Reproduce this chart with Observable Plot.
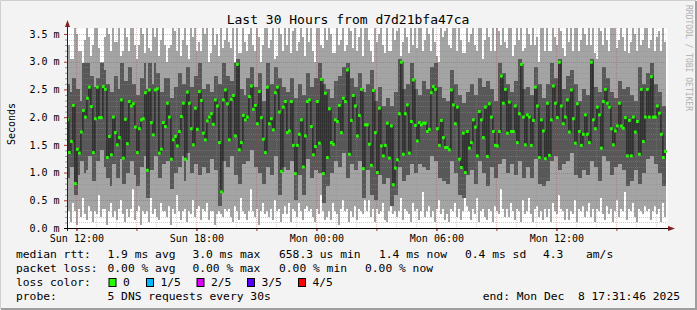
<!DOCTYPE html>
<html><head><meta charset="utf-8">
<script src="https://cdn.jsdelivr.net/npm/d3@7"></script>
<script src="https://cdn.jsdelivr.net/npm/@observablehq/plot@0.6"></script>
<style>
html,body{margin:0;padding:0;background:#f3f3f3;}
svg{display:block}
</style></head><body><div id="chart"></div>
<script>
// ---- data (ms), one entry per 6-minute column ----
const median = [
1.96,1.37,1.57,2.22,0.81,1.43,1.36,1.74,2.13,2.01,
2.35,2.55,2.20,1.37,1.98,2.55,2.00,2.00,2.56,2.51,
1.28,1.66,1.33,2.01,1.73,1.51,1.64,2.32,1.27,1.97,
1.53,2.29,2.21,2.25,1.83,1.37,1.80,1.96,1.98,2.45,
1.05,2.50,1.91,1.69,2.50,2.52,1.36,1.43,1.91,1.84,
2.26,2.01,1.25,1.60,1.66,1.49,1.75,2.02,2.26,1.25,
2.46,2.26,1.80,1.51,2.17,1.79,2.47,2.31,1.72,1.60,
1.94,2.01,2.07,1.88,2.32,2.21,1.55,0.66,2.32,2.50,
2.25,1.60,2.33,2.40,1.67,2.96,1.42,1.55,2.04,1.96,
2.01,2.38,2.57,2.15,2.22,1.89,2.47,2.00,1.61,1.37,
2.55,1.89,1.98,1.78,2.45,2.55,2.10,1.03,2.19,2.29,
1.73,1.76,2.29,1.50,0.99,1.50,1.70,1.96,1.11,1.67,
2.29,2.32,1.84,1.33,1.48,2.29,1.54,2.69,0.99,2.44,
1.28,2.16,1.55,1.52,1.96,1.93,2.22,1.73,2.35,2.29,
2.86,1.34,1.95,2.40,2.21,1.67,2.04,2.51,1.08,1.87,
1.87,1.52,1.14,2.49,1.73,1.01,2.17,1.49,1.31,1.50,
1.90,1.27,1.85,0.79,1.09,1.24,2.07,3.00,1.34,2.07,
2.23,1.36,1.93,2.68,1.86,1.58,1.91,1.87,1.90,1.90,
1.75,1.79,2.45,2.56,2.51,1.80,1.50,1.95,1.64,1.46,
1.46,1.42,2.50,2.23,1.89,2.19,1.25,1.10,1.72,1.01,
1.75,1.45,1.55,1.96,1.83,1.31,2.11,1.96,1.64,2.19,
1.30,2.25,2.01,1.75,1.50,1.49,1.75,2.75,2.26,2.51,
1.72,2.28,1.75,1.75,2.21,1.55,2.07,2.96,2.01,1.51,
2.05,2.01,1.50,1.95,2.55,2.21,1.28,1.96,1.76,1.26,
2.26,1.32,1.96,2.57,2.26,2.00,3.00,2.21,1.89,2.01,
2.32,1.74,2.50,1.98,1.54,2.25,1.75,1.50,1.70,2.05,
1.70,1.55,3.00,1.96,1.80,2.19,2.05,1.45,2.29,2.51,
2.26,2.19,1.80,1.51,1.76,1.85,2.26,1.85,1.81,2.00,
1.31,1.95,1.31,2.01,1.74,1.93,1.34,2.51,1.57,2.01,
2.51,2.01,2.74,2.01,2.01,2.21,2.08,1.70,1.28,1.39];

// outer smoke (light) bottom
const smokeOuterLow = [
0.25,0.3,0.1,0.45,0.3,0.05,0.35,0.2,0.55,0.25,
0.15,0.4,0.3,0.1,0.3,0.25,0.6,0.2,0.35,0.35,
0.05,0.3,0.45,0.2,0.3,0.15,0.35,0.5,0.25,0.1,
0.35,0.2,0.35,0.7,0.15,0.3,0.4,0.05,0.3,0.25,
0.3,0.1,0.55,0.25,0.35,0.2,0.15,0.45,0.3,0.3,
0.2,0.4,0.05,0.35,0.25,0.6,0.3,0.15,0.3,0.35,
0.1,0.3,0.25,0.5,0.2,0.35,0.4,0.15,0.35,0.3,
0.45,0.15,0.3,0.3,0.05,0.25,0.3,0.25,0.2,0.35,
0.3,0.35,0.2,0.1,0.4,0.3,0.15,0.55,0.3,0.25,
0.15,0.3,0.7,0.3,0.2,0.35,0.05,0.3,0.45,0.25,
0.3,0.2,0.35,0.15,0.5,0.3,0.35,0.1,0.25,0.4,
0.25,0.45,0.1,0.35,0.3,0.2,0.45,0.3,0.15,0.35,
0.4,0.3,0.35,0.2,0.1,0.35,0.25,0.6,0.3,0.15,
0.2,0.3,0.15,0.45,0.3,0.25,0.05,0.35,0.5,0.3,
0.35,0.1,0.3,0.2,0.4,0.15,0.35,0.3,0.25,0.5,
0.3,0.5,0.2,0.35,0.1,0.35,0.25,0.3,0.45,0.15,
0.1,0.3,0.4,0.25,0.3,0.2,0.3,0.55,0.15,0.35,
0.3,0.25,0.1,0.45,0.3,0.35,0.15,0.3,0.65,0.2,
0.3,0.4,0.2,0.3,0.1,0.35,0.5,0.25,0.35,0.15,
0.25,0.1,0.35,0.3,0.45,0.2,0.35,0.15,0.3,0.6,
0.4,0.3,0.15,0.35,0.25,0.55,0.1,0.3,0.35,0.2,
0.15,0.35,0.3,0.1,0.4,0.3,0.25,0.7,0.35,0.2,
0.35,0.2,0.45,0.3,0.15,0.35,0.3,0.1,0.5,0.25,
0.3,0.55,0.25,0.1,0.35,0.4,0.2,0.3,0.15,0.35,
0.2,0.35,0.1,0.45,0.3,0.25,0.6,0.35,0.3,0.15,
0.35,0.15,0.3,0.25,0.5,0.1,0.35,0.3,0.4,0.2,
0.3,0.45,0.2,0.35,0.1,0.35,0.3,0.55,0.25,0.15,
0.4,0.25,0.35,0.1,0.3,0.5,0.2,0.35,0.3,0.65,
0.15,0.35,0.3,0.45,0.2,0.1,0.35,0.3,0.25,0.4,
0.3,0.35,0.15,0.3,0.4,0.25,0.35,0.1,0.45,0.2];

// inner smoke (dark) bottom
const smokeInnerLow = [
0.9,0.9,1.1,1.1,0.6,0.6,0.95,1.2,1.2,1.0,
1.05,1.3,1.3,0.85,0.85,1.2,1.2,1.4,1.4,1.1,
0.9,0.9,0.75,1.15,1.15,0.9,0.9,1.25,0.8,0.8,
1.0,1.0,1.2,1.2,0.95,0.75,0.75,1.1,1.1,1.3,
0.55,0.55,1.05,1.05,1.3,1.3,0.9,0.9,1.15,1.15,
1.2,1.2,0.7,0.7,1.0,1.0,1.1,1.1,1.3,0.85,
1.35,1.35,1.0,1.0,1.15,1.15,0.95,0.95,1.1,1.1,
1.0,1.0,1.25,1.25,1.05,1.05,0.4,0.4,1.2,1.2,
1.1,1.1,1.3,1.3,0.95,0.95,0.8,0.8,1.15,1.15,
1.2,1.2,1.4,1.4,1.1,1.1,1.0,1.0,0.8,0.8,
1.1,1.1,0.95,0.95,1.3,1.3,0.6,0.6,1.1,1.1,
1.05,1.05,1.2,1.2,0.5,0.5,0.95,0.95,0.6,0.6,
1.25,1.25,0.9,0.9,1.05,1.05,1.0,1.0,0.45,0.45,
0.75,0.75,1.0,1.0,1.2,1.2,1.1,1.1,1.35,1.35,
0.9,0.9,1.15,1.15,1.05,1.05,1.2,1.2,0.55,0.55,
1.05,1.05,0.6,0.6,0.5,0.5,0.95,0.95,0.8,0.8,
0.9,0.9,0.4,0.4,0.6,0.6,1.1,1.1,0.85,0.85,
0.95,0.95,1.15,1.15,1.0,1.0,1.15,1.15,1.1,1.1,
1.05,1.05,1.3,1.3,1.2,1.2,0.9,0.9,0.85,0.85,
0.8,0.8,1.2,1.2,1.0,1.0,0.6,0.6,0.55,0.55,
0.95,0.95,1.05,1.05,0.8,0.8,1.2,1.2,1.0,1.0,
0.75,0.75,1.1,1.1,0.9,0.9,1.15,1.15,1.25,1.25,
1.0,1.0,1.15,1.15,0.95,0.95,1.2,1.2,0.9,0.9,
1.1,1.1,0.9,0.9,1.25,1.25,0.8,0.8,0.75,0.75,
0.85,0.85,1.2,1.2,1.3,1.3,1.05,1.05,1.15,1.15,
1.2,1.2,1.35,1.35,0.95,0.95,0.9,0.9,1.05,1.05,
0.95,0.95,1.2,1.2,1.1,1.1,0.85,0.85,1.3,1.3,
1.2,1.2,0.95,0.95,1.1,1.1,1.15,1.15,1.05,1.05,
0.75,0.75,0.85,0.85,1.05,1.05,0.8,0.8,1.0,1.0,
1.25,1.25,1.3,1.3,1.15,1.15,1.0,1.0,0.75,0.75];

// inner smoke (dark) top
const smokeInnerHigh = [
2.6,2.6,2.45,2.7,2.7,2.5,2.5,2.3,2.98,2.98,
2.98,2.98,2.75,2.75,2.55,2.7,2.7,2.98,2.98,2.85,
2.6,2.6,2.45,2.45,2.75,2.75,2.5,2.98,2.98,2.65,
2.65,2.9,2.9,2.6,2.6,2.4,2.4,2.7,2.7,2.98,
2.5,2.98,2.98,2.6,2.98,2.8,2.8,2.45,2.45,2.7,
2.7,2.7,2.35,2.35,2.55,2.55,2.8,2.8,2.6,2.6,
2.9,2.9,2.55,2.55,2.75,2.75,2.98,2.98,2.5,2.5,
2.6,2.6,2.45,2.45,2.75,2.75,2.6,2.6,2.98,2.98,
2.75,2.75,2.65,2.65,2.98,3.05,3.05,2.5,2.5,2.4,
2.7,2.7,2.9,2.9,2.55,2.55,2.8,2.8,2.3,2.3,
2.98,2.98,2.6,2.6,2.9,2.9,2.7,2.7,2.55,2.55,
2.45,2.45,2.7,2.7,2.35,2.35,2.6,2.6,2.4,2.4,
2.8,2.8,2.55,2.55,2.7,2.7,2.98,2.98,2.6,2.6,
2.5,2.5,2.35,2.35,2.65,2.65,2.75,2.75,2.9,2.9,
2.98,2.98,2.7,2.7,2.55,2.55,2.8,2.8,2.45,2.45,
2.6,2.6,2.85,2.85,2.3,2.3,2.55,2.55,2.2,2.2,
2.35,2.35,2.2,2.2,2.45,2.45,3.05,3.05,2.5,2.5,
2.6,2.6,2.98,2.98,2.5,2.5,2.4,2.4,2.65,2.65,
2.5,2.5,2.9,2.9,2.98,2.98,2.55,2.55,2.35,2.35,
2.3,2.3,2.85,2.85,2.6,2.6,2.4,2.4,2.25,2.25,
2.45,2.45,2.6,2.6,2.4,2.4,2.7,2.7,2.55,2.55,
2.65,2.65,2.5,2.5,2.3,2.3,2.98,2.98,2.8,2.8,
2.6,2.6,2.45,2.45,2.65,2.65,3.05,3.05,2.5,2.5,
2.55,2.55,2.4,2.4,2.9,2.9,2.6,2.6,2.35,2.35,
2.6,2.6,2.98,2.98,2.7,2.7,3.05,3.05,2.5,2.5,
2.75,2.75,2.85,2.85,2.6,2.6,2.3,2.3,2.5,2.5,
2.4,2.4,3.05,3.05,2.55,2.55,2.45,2.45,2.9,2.9,
2.7,2.7,2.45,2.45,2.35,2.35,2.65,2.65,2.5,2.5,
2.55,2.55,2.4,2.4,2.3,2.3,2.9,2.9,2.6,2.6,
2.8,2.8,2.98,2.98,2.6,2.6,2.45,2.45,2.2,2.2];

// outer smoke (light) top; values above the chart top are clipped
const smokeOuterHigh = [
3.7,3.3,3.05,3.05,3.7,3.5,3.2,3.2,2.95,3.4,
3.7,3.45,3.1,3.3,3.7,3.7,3.25,3.0,3.0,3.45,
3.7,3.5,3.2,3.7,3.35,3.35,3.7,3.1,3.2,3.7,
3.45,3.2,3.7,3.7,3.3,3.05,3.3,3.7,3.5,3.15,
3.7,3.25,3.2,3.7,3.45,3.7,3.1,3.4,3.7,3.3,
3.0,3.25,3.3,3.7,3.55,3.2,3.7,3.1,3.4,3.7,
3.3,3.05,3.7,3.45,3.7,3.2,3.35,3.2,3.7,3.5,
3.7,3.0,3.15,3.7,3.3,3.5,3.1,3.7,3.25,3.4,
3.7,3.35,3.25,3.7,3.0,3.7,3.15,3.15,3.7,3.35,
3.2,3.5,3.7,3.3,3.2,3.7,3.45,3.0,3.3,3.7,
3.7,3.25,3.4,3.7,3.05,3.1,3.7,3.5,3.2,3.7,
3.3,3.7,3.15,3.55,3.7,3.2,3.35,3.7,3.45,3.1,
3.7,3.35,3.7,3.2,3.0,3.7,3.6,3.3,3.25,3.7,
3.4,3.7,3.5,3.15,3.15,3.7,3.3,3.4,3.7,3.2,
3.3,3.7,3.55,3.25,3.7,3.2,3.45,3.7,3.1,3.7,
3.7,3.4,3.2,3.0,3.7,3.35,3.5,3.7,3.3,3.15,
3.7,3.2,3.2,3.7,3.4,3.55,3.7,3.1,3.35,3.7,
3.45,3.15,3.7,3.3,3.7,3.25,3.6,3.7,3.2,3.4,
3.7,3.5,3.2,3.7,3.35,3.1,3.0,3.7,3.45,3.55,
3.7,3.3,3.25,3.7,3.6,3.2,3.7,3.4,3.15,3.15,
3.7,3.35,3.5,3.7,3.3,3.2,3.7,3.6,3.05,3.4,
3.7,3.45,3.2,3.7,3.2,3.7,3.55,3.3,3.7,3.35,
3.25,3.7,3.6,3.1,3.3,3.7,3.4,3.7,3.2,3.25,
3.7,3.5,3.3,3.7,3.3,3.45,3.0,3.7,3.6,3.2,
3.7,3.2,3.2,3.7,3.45,3.3,3.7,3.55,3.25,3.1,
3.7,3.35,3.7,3.2,3.6,3.7,3.2,3.4,3.7,3.5,
3.3,3.7,3.3,3.7,3.15,3.05,3.7,3.55,3.3,3.7,
3.4,3.2,3.7,3.6,3.7,3.25,3.4,3.7,3.45,3.2,
3.7,3.15,3.35,3.7,3.5,3.2,3.7,3.3,3.4,3.6,
3.7,3.25,3.4,3.7,3.2,3.45,3.55,3.2,3.7,3.35];

const yTicks = [0, 0.5, 1, 1.5, 2, 2.5, 3, 3.5];
const xTickLabels = ["Sun 12:00", "Sun 18:00", "Mon 00:00", "Mon 06:00", "Mon 12:00"];
const titleText = "Last 30 Hours from d7d21bfa47ca";
const legendLines = [
  ["median rtt:", "1.9 ms avg", "3.0 ms max", "658.3 us min", "1.4 ms now", "0.4 ms sd", "4.3", "am/s"],
  ["packet loss:", "0.00 % avg", "0.00 % max", "0.00 % min", "0.00 % now"]
];
const lossLabels = ["0", "1/5", "2/5", "3/5", "4/5"];
const lossColors = ["#26ff00", "#00b8ff", "#dd00ff", "#5500ff", "#ff0000"];
const probeText = "5 DNS requests every 30s";
const endText = "end: Mon Dec  8 17:31:46 2025";

// ---- time frame ----
const STEP = 360 * 1000;
const firstColumn = Date.UTC(2025, 11, 7, 11, 30, 0);
const start = new Date(Date.UTC(2025, 11, 7, 11, 31, 46));
const end = new Date(Date.UTC(2025, 11, 8, 17, 31, 46));

const rows = median.map((m, i) => ({
  t0: new Date(firstColumn + i * STEP),
  t1: new Date(firstColumn + (i + 1) * STEP),
  med: m,
  lo1: smokeOuterLow[i], lo2: smokeInnerLow[i],
  hi2: smokeInnerHigh[i], hi1: smokeOuterHigh[i]
}));
const steps = rows.map(r => ({t: r.t0, med: r.med, lo1: r.lo1, lo2: r.lo2, hi2: r.hi2, hi1: r.hi1}));
const last = rows[rows.length - 1];
steps.push({t: last.t1, med: last.med, lo1: last.lo1, lo2: last.lo2, hi2: last.hi2, hi1: last.hi1});

const hours = d3.utcHour.range(start, end);
const hours3 = hours.filter(d => d.getUTCHours() % 3 === 0);
const hours6 = hours.filter(d => d.getUTCHours() % 6 === 0);
const hours1 = hours.filter(d => d.getUTCHours() % 3 !== 0);
const minorY = d3.range(1, 36).map(i => i / 10).filter(v => Math.abs(v * 2 - Math.round(v * 2)) > 1e-6);

const mono = "'DejaVu Sans Mono', monospace";

const plot = Plot.plot({
  width: 697, height: 310,
  marginLeft: 67, marginRight: 30, marginTop: 28, marginBottom: 82,
  style: {background: "transparent", fontFamily: mono, fontSize: "10px", color: "#000", overflow: "visible"},
  x: {type: "utc", domain: [start, end]},
  y: {domain: [0, 3.608]},
  marks: [
    Plot.frame({fill: "#ffffff", stroke: null}),
    Plot.areaY(steps, {x: "t", y1: "lo1", y2: "hi1", curve: "step-after", fill: "#a4a4a4", clip: true, shapeRendering: "crispEdges"}),
    Plot.areaY(steps, {x: "t", y1: "lo2", y2: "hi2", curve: "step-after", fill: "#585858", clip: true, shapeRendering: "crispEdges"}),
    Plot.ruleY(minorY, {stroke: "#8c8c8c", strokeOpacity: 0.45, strokeDasharray: "1,1", shapeRendering: "crispEdges"}),
    Plot.ruleX(hours1, {stroke: "#8c8c8c", strokeOpacity: 0.35, strokeDasharray: "1,1", shapeRendering: "crispEdges"}),
    Plot.ruleY(yTicks.slice(1), {stroke: "#c03030", strokeOpacity: 0.35, strokeDasharray: "1,1", shapeRendering: "crispEdges"}),
    Plot.ruleX(hours3, {stroke: "#c03030", strokeOpacity: 0.3, strokeDasharray: "1,1", shapeRendering: "crispEdges"}),
    Plot.line(steps, {x: "t", y: "med", curve: "step-after", stroke: "#202020", strokeWidth: 1.2, clip: true}),
    Plot.ruleY(rows, {y: "med", x1: d => new Date(+d.t0 - 60000), x2: d => new Date(+d.t1 + 60000), stroke: "#26ff00", strokeWidth: 3, clip: true}),
    Plot.axisY(minorY, {tickSize: 2, text: null, stroke: "#999", label: null}),
    Plot.axisY(yTicks, {tickSize: 3, tickPadding: 5, tickFormat: d => d.toFixed(1) + " m", stroke: "#b03030", label: null, fontSize: 10}),
    Plot.axisX(hours3, {tickSize: 3, text: null, stroke: "#b03030", label: null}),
    Plot.axisX(hours6, {tickSize: 3, tickPadding: 3, tickFormat: (d, i) => xTickLabels[i], stroke: "#b03030", label: null, fontSize: 10})
  ]
});

document.getElementById("chart").appendChild(plot);

const svg = d3.select(plot);
const xs = plot.scale("x"), ys = plot.scale("y");
const x0 = xs.apply(start), x1 = xs.apply(end);
const yb = ys.apply(0), yt = ys.apply(3.608);

// axes lines and arrows
svg.append("line").attr("x1", x0 + 0.5).attr("x2", x0 + 0.5).attr("y1", yb + 3).attr("y2", yt - 1).attr("stroke", "#1f1f1f");
svg.append("line").attr("x1", x0 - 3).attr("x2", x1 + 1).attr("y1", yb + 0.5).attr("y2", yb + 0.5).attr("stroke", "#000");
svg.append("path").attr("d", `M${x0 - 2},${yt - 1}L${x0 + 3},${yt - 1}L${x0 + 0.5},${yt - 8}Z`).attr("fill", "#7f1f1f");
svg.append("path").attr("d", `M${x1 + 1},${yb - 2}L${x1 + 1},${yb + 3}L${x1 + 8},${yb + 0.5}Z`).attr("fill", "#7f1f1f");

const addText = (sel, x, y, s, size, anchor = "start") =>
  sel.append("text").attr("x", x).attr("y", y).attr("text-anchor", anchor)
    .style("font-family", mono).style("font-size", size).style("white-space", "pre")
    .attr("fill", "#000").text(s);

// title
addText(svg, 348, 23.5, titleText, "13px", "middle");

// y label
svg.append("text").attr("transform", "translate(14.5,124) rotate(-90)").attr("text-anchor", "middle")
  .style("font-family", mono).style("font-size", "10px").attr("fill", "#000").text("Seconds");

// watermark
svg.append("text").attr("transform", "translate(685.5,5) rotate(90)").attr("text-anchor", "start")
  .style("font-family", mono).style("font-size", "8px").attr("fill", "#b0b0b0").text("RRDTOOL / TOBI OETIKER");

// legend
const lg = svg.append("g");
const col1 = [16, 107.5, 192.4, 279, 379, 465, 543, 586];
const col2 = [16, 107.5, 192.4, 279, 365];
const LS = "11.3px";
legendLines[0].forEach((s, i) => addText(lg, col1[i], 258, s, LS));
legendLines[1].forEach((s, i) => addText(lg, col2[i], 272, s, LS));
addText(lg, 16, 286, "loss color:", LS);
const boxX = [108.5, 146, 196.5, 247, 298];
lossLabels.forEach((s, i) => {
  lg.append("rect").attr("x", boxX[i] + 0.5).attr("y", 278.5).attr("width", 7).attr("height", 8)
    .attr("fill", lossColors[i]).attr("stroke", "#000").attr("stroke-width", 1);
  addText(lg, boxX[i] + 14.5, 286, s, LS);
});
addText(lg, 16, 300, "probe:", LS);
addText(lg, 107.5, 300, probeText, LS);
addText(lg, 680, 300, endText, LS, "end");

// outer shade border
svg.append("path").attr("d", "M0.5,309V0.5H696").attr("fill", "none").attr("stroke", "#cfcfcf").attr("stroke-width", 1);
svg.append("path").attr("d", "M696,1V309H1").attr("fill", "none").attr("stroke", "#9e9e9e").attr("stroke-width", 2);
</script></body></html>
